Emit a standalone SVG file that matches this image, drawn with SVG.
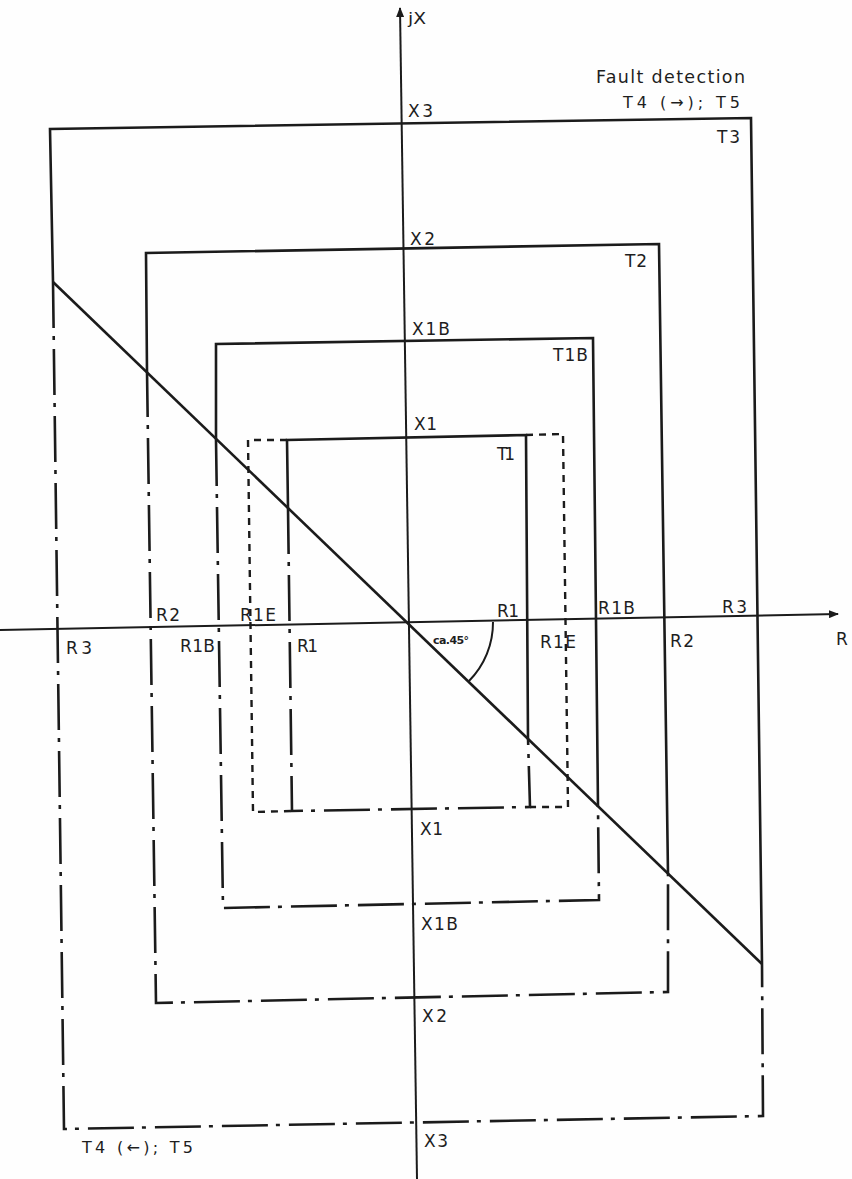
<svg xmlns="http://www.w3.org/2000/svg" width="852" height="1179" viewBox="0 0 852 1179">
<style>
.s{fill:none;stroke:#1b1b1b;stroke-width:2.6;stroke-linejoin:miter;stroke-linecap:butt}
.dd{fill:none;stroke:#1b1b1b;stroke-width:2.6;stroke-dasharray:46 8 4 9}
.ds{fill:none;stroke:#1b1b1b;stroke-width:2.4;stroke-dasharray:7 6}
.ax{fill:none;stroke:#1b1b1b;stroke-width:2}
.t{font-family:"DejaVu Sans","Liberation Sans",Arial,sans-serif;font-size:17px;fill:#1e1e1e}
.big{font-size:17.5px}
.md{font-size:16px}
.sm{font-size:11px;font-weight:bold}
</style>
<defs>
<marker id="arr" viewBox="0 0 10 8" refX="9" refY="4" markerWidth="10" markerHeight="8" markerUnits="userSpaceOnUse" orient="auto">
<path d="M0,0 L10,4 L0,8 Z" fill="#1b1b1b"/>
</marker>
</defs>
<rect width="852" height="1179" fill="#fefefe"/>

<g id="axes">
<line class="ax" x1="417" y1="1179" x2="400" y2="8" marker-end="url(#arr)"/>
<line class="ax" x1="0" y1="630" x2="838" y2="614" marker-end="url(#arr)"/>
<path class="ax" d="M493 622 A83 83 0 0 1 469 681"/>
</g>

<g id="diagonal">
<line class="s" x1="53" y1="282" x2="762" y2="964" stroke-width="3"/>
</g>

<g id="T3">
<polyline class="s" points="53,282 50,129 751,118 762,964"/>
<polyline class="dd" points="53,282 64,1129 763,1116 762,964"/>
</g>

<g id="T2">
<polyline class="s" points="147,371 146,253 659,244 668,874"/>
<polyline class="dd" points="147,371 156,1003 668,992 668,874"/>
</g>

<g id="T1B">
<polyline class="s" points="216,440 216,344 593,338 598,807"/>
<polyline class="dd" points="216,440 223,908 599,900 598,807"/>
</g>

<g id="T1E">
<polyline class="ds" points="287,440 248,440 253,812 292,811"/>
<polyline class="ds" points="526,435 563,434 568,807 530,807"/>
</g>

<g id="T1">
<polyline class="s" points="288,508 287,440 526,435 528,738"/>
<polyline class="dd" points="288,508 292,811 530,807 528,738"/>
</g>

<g id="labels">
<text class="t md" x="408" y="24" textLength="18" lengthAdjust="spacingAndGlyphs">jX</text>
<text class="t big" x="596" y="83" textLength="149" lengthAdjust="spacing">Fault detection</text>
<text class="t md" x="623" y="108" textLength="117" lengthAdjust="spacing">T4 (→); T5</text>
<text class="t" x="408" y="117" textLength="25" lengthAdjust="spacing">X3</text>
<text class="t" x="717" y="143" textLength="23" lengthAdjust="spacing">T3</text>
<text class="t" x="410" y="245" textLength="25" lengthAdjust="spacing">X2</text>
<text class="t" x="625" y="267" textLength="22" lengthAdjust="spacing">T2</text>
<text class="t" x="412" y="335" textLength="38" lengthAdjust="spacing">X1B</text>
<text class="t" x="553" y="361" textLength="35" lengthAdjust="spacing">T1B</text>
<text class="t" x="414" y="430" textLength="23" lengthAdjust="spacing">X1</text>
<text class="t" x="497" y="460" textLength="18" lengthAdjust="spacing">T1</text>

<text class="t" x="156" y="621" textLength="24" lengthAdjust="spacing">R2</text>
<text class="t" x="240" y="621" textLength="36" lengthAdjust="spacing">R1E</text>
<text class="t" x="66" y="654" textLength="26" lengthAdjust="spacing">R3</text>
<text class="t" x="180" y="652" textLength="35" lengthAdjust="spacing">R1B</text>
<text class="t" x="297" y="652" textLength="21" lengthAdjust="spacing">R1</text>
<text class="t sm" x="433" y="644" textLength="36" lengthAdjust="spacing">ca.45°</text>
<text class="t" x="497" y="617" textLength="22" lengthAdjust="spacing">R1</text>
<text class="t" x="540" y="648" textLength="36" lengthAdjust="spacing">R1E</text>
<text class="t" x="598" y="614" textLength="37" lengthAdjust="spacing">R1B</text>
<text class="t" x="670" y="647" textLength="24" lengthAdjust="spacing">R2</text>
<text class="t" x="722" y="613" textLength="25" lengthAdjust="spacing">R3</text>
<text class="t" x="836" y="645">R</text>

<text class="t" x="420" y="835" textLength="23" lengthAdjust="spacing">X1</text>
<text class="t" x="421" y="930" textLength="37" lengthAdjust="spacing">X1B</text>
<text class="t" x="422" y="1022" textLength="25" lengthAdjust="spacing">X2</text>
<text class="t" x="424" y="1147" textLength="24" lengthAdjust="spacing">X3</text>
<text class="t md" x="82" y="1153" textLength="111" lengthAdjust="spacing">T4 (←); T5</text>
</g>
</svg>
